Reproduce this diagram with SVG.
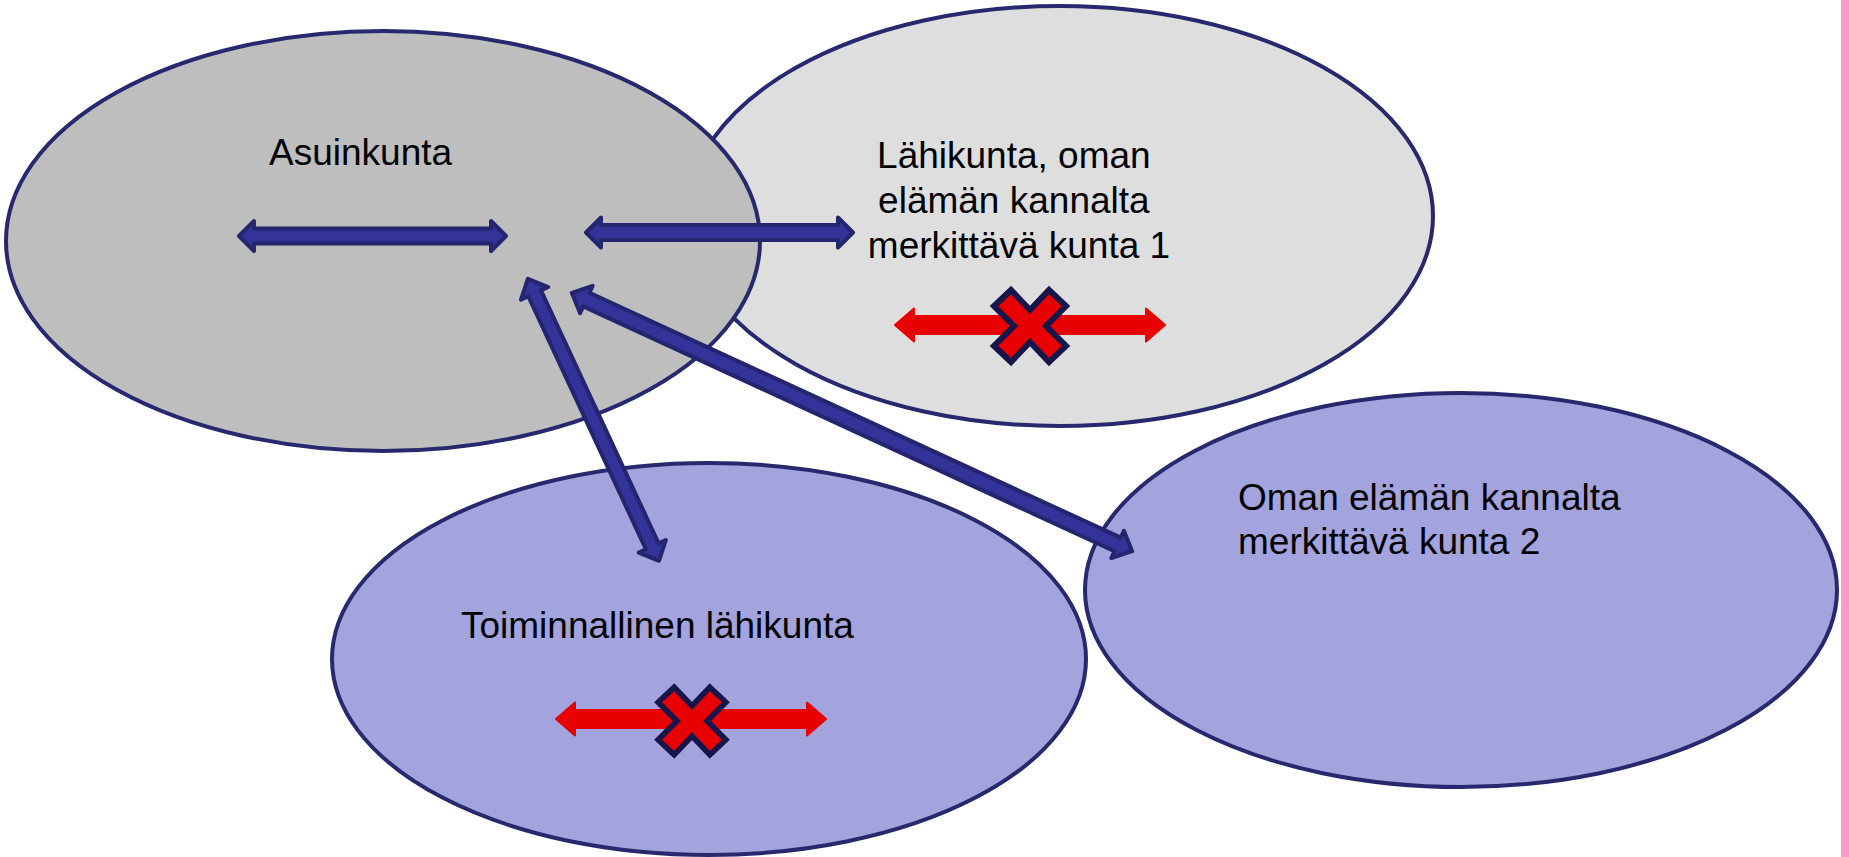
<svg xmlns="http://www.w3.org/2000/svg" width="1849" height="857" viewBox="0 0 1849 857">
  <style>
    .ell { stroke: #28286E; stroke-width: 4; }
    .lbl { font-family: "Liberation Sans", Arial, sans-serif; font-size: 37px; fill: #000000; }
    .blue { fill: #333399; stroke: #25256F; stroke-width: 4; stroke-linejoin: round; }
    .red { fill: #E80000; stroke: #E80000; stroke-width: 2; stroke-linejoin: round; }
    .xmark { fill: #E80000; stroke: #16164A; stroke-width: 6; stroke-linejoin: miter; }
  </style>
  <defs>
    <path id="redArrow" d="M1,0 L20,-16.5 L20,-9 L252,-9 L252,-16.5 L271,0 L252,16.5 L252,9 L20,9 L20,16.5 Z"/>
    <polygon id="xShape" points="-19,-36 0,-16 19,-36 36,-20 16,0 36,20 19,36 0,16 -19,36 -36,20 -16,0 -36,-20"/>
  </defs>
  <rect x="0" y="0" width="1849" height="857" fill="#FFFFFF"/>
  <rect x="1841" y="0" width="8" height="857" fill="#FF99CC"/>

  <g id="node-lahikunta1">
    <ellipse class="ell" cx="1060" cy="216" rx="373" ry="210" fill="#DEDEDE"/>
    <text class="lbl" text-anchor="middle">
      <tspan x="1019" y="168">Lähikunta, oman</tspan>
      <tspan x="1019" y="213">elämän kannalta</tspan>
      <tspan x="1019" y="258">merkittävä kunta 1</tspan>
    </text>
    <use href="#redArrow" class="red" transform="translate(894,325)"/>
    <use href="#xShape" class="xmark" transform="translate(1030,326)"/>
  </g>

  <g id="node-asuinkunta">
    <ellipse class="ell" cx="383" cy="241" rx="377" ry="210" fill="#BEBEBE"/>
    <text class="lbl" x="269" y="165">Asuinkunta</text>
  </g>

  <g id="node-toiminnallinen">
    <ellipse class="ell" cx="709" cy="659" rx="377" ry="196" fill="#A3A3DE"/>
    <text class="lbl" x="461" y="638">Toiminnallinen lähikunta</text>
    <use href="#redArrow" class="red" transform="translate(555,719)"/>
    <use href="#xShape" class="xmark" transform="translate(692,721) scale(0.94)"/>
  </g>

  <g id="node-kunta2">
    <ellipse class="ell" cx="1461" cy="590" rx="376" ry="197" fill="#A3A3DE"/>
    <text class="lbl">
      <tspan x="1238" y="510">Oman elämän kannalta</tspan>
      <tspan x="1238" y="554">merkittävä kunta 2</tspan>
    </text>
  </g>

  <g id="connectors">
    <!-- Asuinkunta internal double arrow -->
    <path class="blue" transform="translate(237,236)" d="M2,0 L17,-15 L17,-7.5 L254,-7.5 L254,-15 L269,0 L254,15 L254,7.5 L17,7.5 L17,15 Z"/>
    <!-- Asuinkunta <-> Lähikunta 1 -->
    <path class="blue" transform="translate(584,232.5)" d="M2,0 L17,-15 L17,-7.5 L254,-7.5 L254,-15 L269,0 L254,15 L254,7.5 L17,7.5 L17,15 Z"/>
    <!-- Asuinkunta <-> Toiminnallinen lähikunta -->
    <path class="blue" transform="translate(527,277) rotate(65.06)" d="M2,0 L18,-15 L18,-7 L297,-7 L297,-15 L313,0 L297,15 L297,7 L18,7 L18,15 Z"/>
    <!-- Asuinkunta <-> Kunta 2 -->
    <path class="blue" transform="translate(570,292) rotate(24.75)" d="M2,0 L18,-15 L18,-7.5 L603,-7.5 L603,-15 L619,0 L603,15 L603,7.5 L18,7.5 L18,15 Z"/>
  </g>
</svg>
